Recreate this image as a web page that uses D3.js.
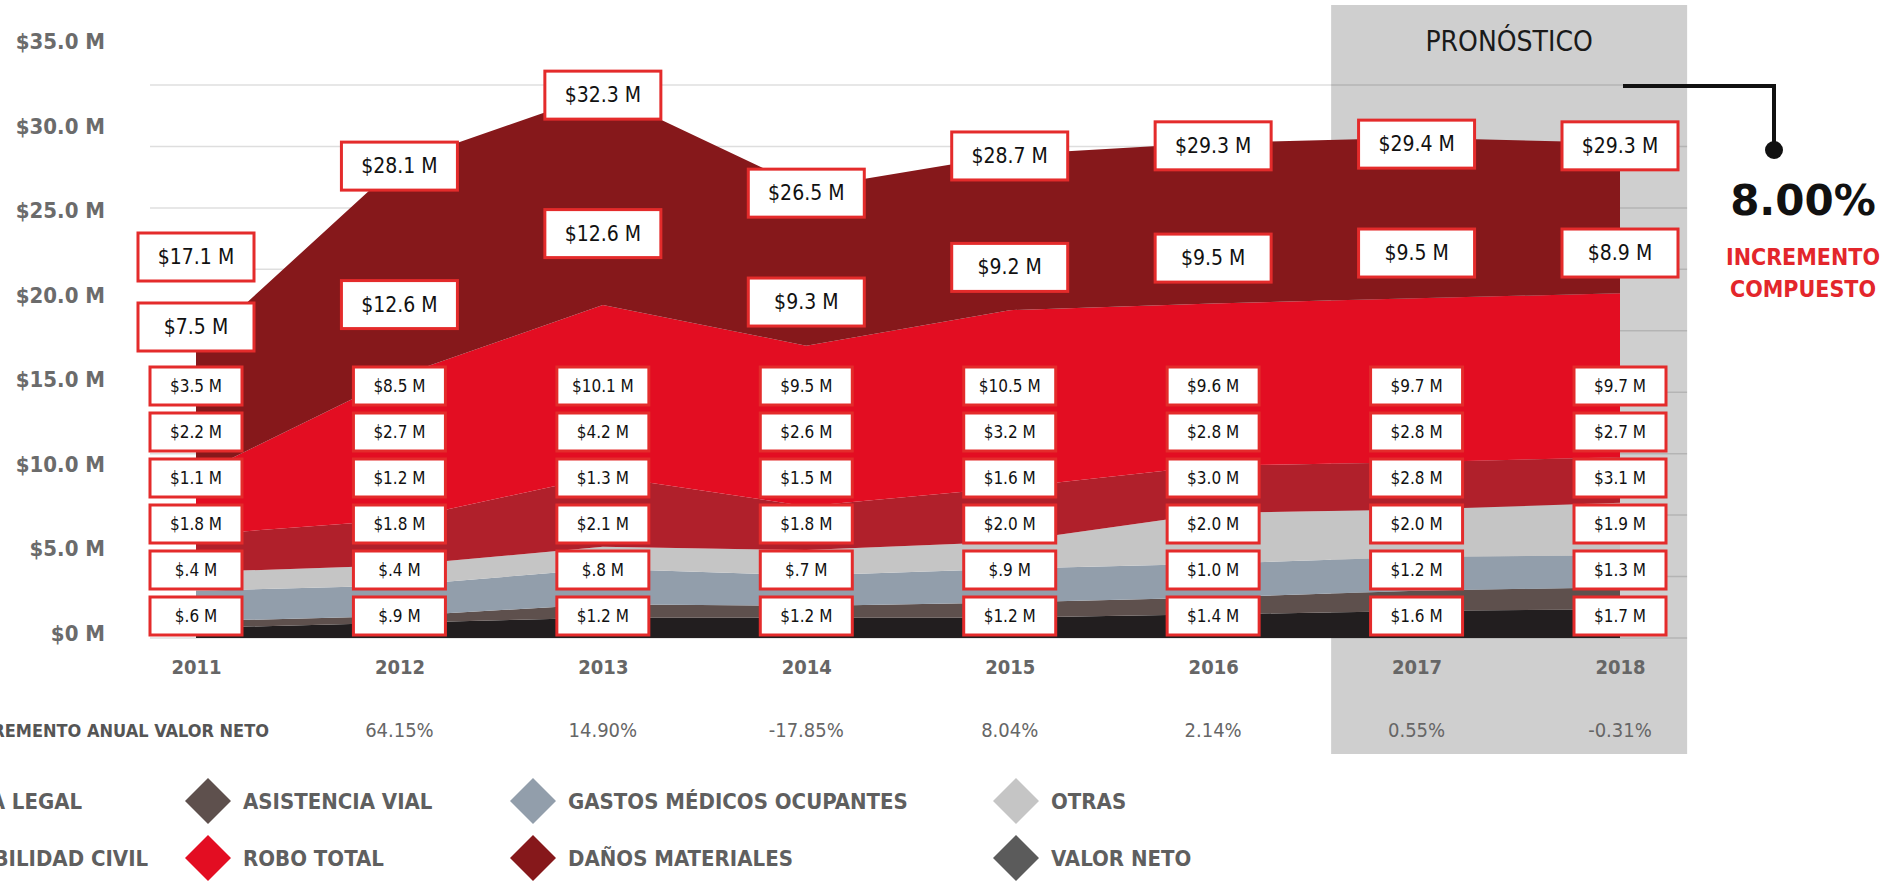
<!DOCTYPE html>
<html>
<head>
<meta charset="utf-8">
<script src="https://cdn.jsdelivr.net/npm/d3@7"></script>
<style>
  body { margin: 0; background: #fff; }
  svg { display: block; font-family: "DejaVu Sans Condensed", "DejaVu Sans", sans-serif; font-stretch: condensed; }
</style>
</head>
<body>
<div id="chart"></div>
<script>
// values (millions)
const years = [2011, 2012, 2013, 2014, 2015, 2016, 2017, 2018];
const seriesKeys = ["legal", "vial", "gastos", "otras", "civil", "robo", "danos"];
const legal  = [0.6, 0.9, 1.2, 1.2, 1.2, 1.4, 1.6, 1.7];
const vial   = [0.4, 0.4, 0.8, 0.7, 0.9, 1.0, 1.2, 1.3];
const gastos = [1.8, 1.8, 2.1, 1.8, 2.0, 2.0, 2.0, 1.9];
const otras  = [1.1, 1.2, 1.3, 1.5, 1.6, 3.0, 2.8, 3.1];
const civil  = [2.2, 2.7, 4.2, 2.6, 3.2, 2.8, 2.8, 2.7];
const robo   = [3.5, 8.5, 10.1, 9.5, 10.5, 9.6, 9.7, 9.7];
const danos  = [7.5, 12.6, 12.6, 9.3, 9.2, 9.5, 9.5, 8.9];
const valorNeto = [17.1, 28.1, 32.3, 26.5, 28.7, 29.3, 29.4, 29.3];
const incrementoAnual = [null, 64.15, 14.90, -17.85, 8.04, 2.14, 0.55, -0.31];
const forecastYears = [2017, 2018];
const yTicks = [0, 5, 10, 15, 20, 25, 30, 35];
const incrementoCompuesto = 8.00;
const legendNames = ["ASISTENCIA LEGAL", "ASISTENCIA VIAL", "GASTOS MÉDICOS OCUPANTES", "OTRAS",
                     "RESPONSABILIDAD CIVIL", "ROBO TOTAL", "DAÑOS MATERIALES", "VALOR NETO"];

const colors = {
  legal: "#221e1f", vial: "#5e504d", gastos: "#929eab", otras: "#c5c5c5",
  civil: "#b0202b", robo: "#e30d22", danos: "#86181b", neto: "#5b5b5b"
};
const legendColors = [colors.legal, colors.vial, colors.gastos, colors.otras,
                      colors.civil, colors.robo, colors.danos, colors.neto];

const width = 1901, height = 881;

const svg = d3.select("#chart").append("svg")
    .attr("width", width)
    .attr("height", height);

// table for the stack
const columns = { legal, vial, gastos, otras, civil, robo, danos };
const table = years.map((year, i) => {
  const row = { year };
  seriesKeys.forEach(k => row[k] = columns[k][i]);
  return row;
});
const stacked = d3.stack().keys(seriesKeys)(table);

const x = d3.scalePoint().domain(years).range([196, 1620]);
const y = d3.scaleLinear().domain([0, 35]).range([638, 46.5]);

// forecast band
const bandX0 = x(forecastYears[0]) - x.step() * 0.42;
const bandX1 = x(forecastYears[1]) + x.step() * 0.33;
svg.append("rect")
    .attr("x", bandX0).attr("y", 5)
    .attr("width", bandX1 - bandX0).attr("height", 749)
    .attr("fill", "#cfcfcf");

svg.append("text")
    .attr("x", (bandX0 + bandX1) / 2).attr("y", 41)
    .attr("text-anchor", "middle").attr("dominant-baseline", "central")
    .attr("font-size", 28).attr("fill", "#1a1a1a")
    .text("PRONÓSTICO");

// grid lines
const gridY = d3.scaleLinear().domain([0, 9]).range([y(0), 85]);
svg.append("g")
  .selectAll("line")
  .data(d3.range(10))
  .join("line")
    .attr("x1", 150).attr("x2", bandX1)
    .attr("y1", d => gridY(d)).attr("y2", d => gridY(d))
    .attr("stroke", "rgba(0,0,0,0.13)")
    .attr("stroke-width", 1.5);

// stacked areas
const area = d3.area()
    .x(d => x(d.data.year))
    .y0(d => y(d[0]))
    .y1(d => y(d[1]));

svg.append("g")
  .selectAll("path")
  .data(stacked)
  .join("path")
    .attr("fill", d => colors[d.key])
    .attr("d", area);

// y axis
const yAxis = svg.append("g")
    .attr("transform", "translate(108,-5)")
    .call(d3.axisLeft(y).tickValues(yTicks).tickSize(0)
      .tickFormat(v => v === 0 ? "$0 M" : "$" + v.toFixed(1) + " M"));
yAxis.select(".domain").remove();
yAxis.selectAll("text")
    .attr("font-family", "DejaVu Sans Condensed, DejaVu Sans")
    .attr("font-size", 22).attr("font-weight", "bold").attr("fill", "#6b6b6b");

// x axis (years)
const xAxis = svg.append("g")
    .attr("transform", "translate(0,657)")
    .call(d3.axisBottom(x).tickSize(0));
xAxis.select(".domain").remove();
xAxis.selectAll("text")
    .attr("font-family", "DejaVu Sans Condensed, DejaVu Sans")
    .attr("font-size", 20).attr("font-weight", "bold").attr("fill", "#666");

// value boxes
const money = v => v < 1 ? "$" + v.toFixed(1).replace(/^0/, "") + " M" : "$" + v.toFixed(1) + " M";
const slotY = r => y(0) - 22 - r * 46;
const boxes = [];
years.forEach((year, i) => {
  for (let r = 0; r < 6; r++) {
    boxes.push({ x: x(year), y: slotY(r), v: stacked[r][i].data[seriesKeys[r]], big: false });
  }
  const top = stacked[6][i];
  const gY = Math.min((y(top[0]) + y(top[1])) / 2 + 35, slotY(5) - 59);
  boxes.push({ x: x(year), y: gY, v: danos[i], big: true });
  const tY = Math.min(y(valorNeto[i]) + 3, gY - 70);
  boxes.push({ x: x(year), y: tY, v: valorNeto[i], big: true });
});

const box = svg.append("g")
  .selectAll("g")
  .data(boxes)
  .join("g")
    .attr("transform", d => `translate(${d.x},${d.y})`);

box.append("rect")
    .attr("x", d => d.big ? -58 : -46)
    .attr("y", d => d.big ? -24 : -19)
    .attr("width", d => d.big ? 116 : 92)
    .attr("height", d => d.big ? 48 : 38)
    .attr("fill", "#fff")
    .attr("stroke", "#e42b2b")
    .attr("stroke-width", 3);

box.append("text")
    .attr("text-anchor", "middle")
    .attr("dominant-baseline", "central")
    .attr("font-size", d => d.big ? 21 : 17)
    .attr("fill", "#111")
    .text(d => money(d.v));

// annual increase row
svg.append("text")
    .attr("x", 269).attr("y", 730)
    .attr("text-anchor", "end").attr("dominant-baseline", "central")
    .attr("font-size", 18).attr("font-weight", "bold").attr("fill", "#555")
    .text("INCREMENTO ANUAL VALOR NETO");

svg.append("g")
  .selectAll("text")
  .data(years.map((year, i) => ({ year, v: incrementoAnual[i] })).filter(d => d.v !== null))
  .join("text")
    .attr("x", d => x(d.year)).attr("y", 730)
    .attr("text-anchor", "middle").attr("dominant-baseline", "central")
    .attr("font-size", 20).attr("fill", "#666")
    .text(d => d.v.toFixed(2) + "%");

// compound increase callout
svg.append("path")
    .attr("d", "M1623,86H1774V145")
    .attr("fill", "none").attr("stroke", "#111").attr("stroke-width", 4);
svg.append("circle")
    .attr("cx", 1774).attr("cy", 150).attr("r", 9).attr("fill", "#111");
svg.append("text")
    .attr("x", 1803).attr("y", 200)
    .attr("text-anchor", "middle").attr("dominant-baseline", "central")
    .attr("font-family", "DejaVu Sans").style("font-stretch", "normal")
    .attr("font-size", 42).attr("font-weight", "bold").attr("fill", "#111")
    .text(incrementoCompuesto.toFixed(2) + "%");
svg.append("text")
    .attr("x", 1803).attr("y", 257)
    .attr("text-anchor", "middle").attr("dominant-baseline", "central")
    .attr("font-size", 23).attr("font-weight", "bold").attr("fill", "#e3262b")
    .text("INCREMENTO");
svg.append("text")
    .attr("x", 1803).attr("y", 289)
    .attr("text-anchor", "middle").attr("dominant-baseline", "central")
    .attr("font-size", 23).attr("font-weight", "bold").attr("fill", "#e3262b")
    .text("COMPUESTO");

// legend
const legendColX = [-162, 208, 533, 1016];
const legendRowY = [801, 858];
const legend = svg.append("g")
  .selectAll("g")
  .data(legendNames)
  .join("g")
    .attr("transform", (d, i) => `translate(${legendColX[i % 4]},${legendRowY[Math.floor(i / 4)]})`);

legend.append("path")
    .attr("d", d3.symbol(d3.symbolSquare, 1056))
    .attr("transform", "rotate(45)")
    .attr("fill", (d, i) => legendColors[i]);

legend.append("text")
    .attr("x", 35)
    .attr("dominant-baseline", "central")
    .attr("font-size", 22).attr("font-weight", "bold").attr("fill", "#5f5f5f")
    .text(d => d);
</script>
</body>
</html>
